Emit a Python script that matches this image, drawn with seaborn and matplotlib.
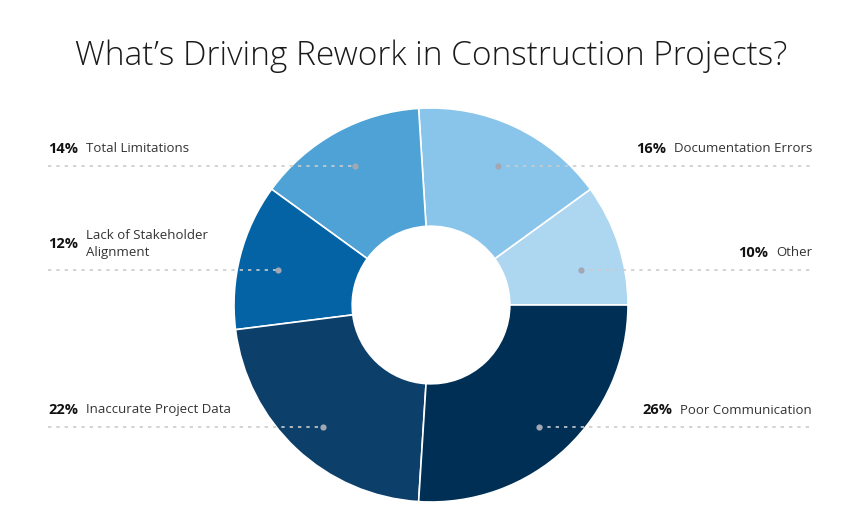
import numpy as np
import matplotlib
matplotlib.use("Agg")
import matplotlib.pyplot as plt
import seaborn as sns

# data, counterclockwise from 3 o'clock
causes = ["Other", "Documentation Errors", "Total Limitations",
          "Lack of Stakeholder\nAlignment", "Inaccurate Project Data",
          "Poor Communication"]
shares = [10, 16, 14, 12, 22, 26]
colors = ["#add6f1", "#89c4ea", "#4ea2d5", "#0363a5", "#0c3f6a", "#002f55"]
# label rows (pixels from top) for each cause
label_rows = [270, 166, 166, 270, 427, 427]

sns.set_theme(style="white")
plt.rcParams["font.family"] = ["Open Sans", "DejaVu Sans"]

W, H = 863, 528
fig = plt.figure(figsize=(W / 100, H / 100), dpi=100)
ax = fig.add_axes([0, 0, 1, 1])

cx, cy, R = 431, H - 305, 197
wedges, _ = ax.pie(shares, colors=colors, startangle=0, counterclock=True,
                   center=(cx, cy), radius=R, frame=True,
                   wedgeprops=dict(width=R * 0.6, edgecolor="white", linewidth=1.2))
ax.set_xlim(0, W)
ax.set_ylim(0, H)
ax.set_aspect("equal")
ax.axis("off")

fig.text(0.5, 1 - 56 / H, "What\u2019s Driving Rework in Construction Projects?",
         ha="center", va="center", fontsize=24, fontweight=300, color="#1a1a1a")

fig.canvas.draw()
renderer = fig.canvas.get_renderer()
left_x, right_x = 48, 812
line_col = "#cccccc"
dot_col = "#a3a7b3"

for w, name, pct, row in zip(wedges, causes, shares, label_rows):
    mid = np.deg2rad((w.theta1 + w.theta2) / 2)
    dx = cx + 0.8 * R * np.cos(mid)
    dy = H - row
    two_line = "\n" in name
    ty = dy + (26 if two_line else 17)
    if dx < cx:
        ax.plot([left_x, dx], [dy, dy], color=line_col, lw=1.2,
                ls=(0, (2, 3)), zorder=3)
        ax.text(left_x, ty, f"{pct}%", ha="left", va="center",
                fontsize=10.5, fontweight="bold", color="#111111")
        ax.text(left_x + 38, ty, name, ha="left", va="center",
                fontsize=9.5, color="#333333", linespacing=1.35)
    else:
        ax.plot([dx, right_x], [dy, dy], color=line_col, lw=1.2,
                ls=(0, (2, 3)), zorder=3)
        t = ax.text(right_x, ty, name, ha="right", va="center",
                    fontsize=9.5, color="#333333", linespacing=1.35)
        bb = t.get_window_extent(renderer)
        ax.text(bb.x0 - 8, ty, f"{pct}%", ha="right", va="center",
                fontsize=10.5, fontweight="bold", color="#111111")
    ax.scatter([dx], [dy], s=20, color=dot_col, zorder=4, linewidths=0)

fig.savefig("out.png", dpi=100)
